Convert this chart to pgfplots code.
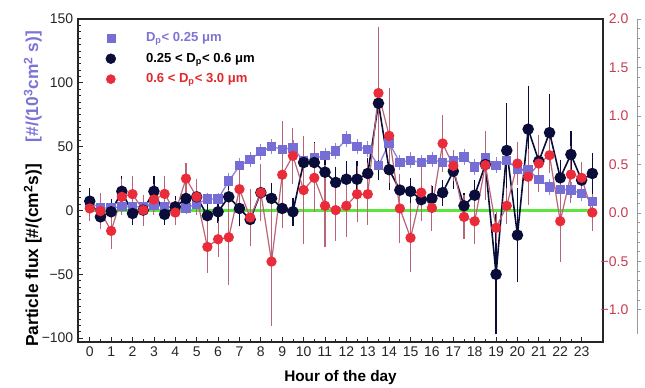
\documentclass[border=0pt]{standalone}
\usepackage{pgfplots}
\pgfplotsset{compat=1.18}
\usepackage{pgfplotstable}
\usepackage{fontspec}
\setmainfont{Liberation Sans}

\definecolor{lav}{RGB}{118,110,212}
\definecolor{lavline}{RGB}{140,132,220}
\definecolor{lavtext}{RGB}{125,115,215}
\definecolor{navy}{RGB}{10,12,58}
\definecolor{redm}{RGB}{234,44,58}
\definecolor{redline}{RGB}{185,100,120}
\definecolor{redtext}{RGB}{225,40,45}
\definecolor{gline}{RGB}{90,230,60}
\definecolor{raxis}{RGB}{200,60,80}

\pgfplotstableread{
x y e
0 6 3
0.5 2 3
1 2 3
1.5 3 3
2 3 3
2.5 3 3
3 4 3
3.5 3 3
4 2 3
4.5 2 3
5 5 3
5.5 9 3
6 9 3
6.5 23 4
7 35 4
7.5 40 4
8 46 4
8.5 50 4
9 48 4
9.5 49 4
10 39 4
10.5 41 4
11 43 4
11.5 46.5 4
12 56 4
12.5 50 4
13 48 4
13.5 35 5
14 53 5
14.5 37.6 4
15 39.4 4
15.5 37.6 4
16 40 4
16.5 37.6 4
17 39.4 4
17.5 41.8 4
18 34 4
18.5 41 4
19 35.5 4
19.5 39.4 4
20 32.4 4
20.5 31.6 4
21 24.5 4
21.5 18.5 4
22 16.7 4
22.5 16 4
23 13.3 4
23.5 7.3 4
}\sq

\pgfplotstableread{
x y e
0 7.3 8
0.5 -5 6
1 -1 8
1.5 15 10
2 -2.3 7
2.5 0.3 7
3 15 10
3.5 -3 6
4 2.9 6
4.5 9.4 8
5 10.7 8
5.5 -4 8
6 -1 7
6.5 10.7 10
7 1.6 12
7.5 -7 14
8 14 12
8.5 9.5 10
9 1.6 8
9.5 -1 9
10 37.6 14
10.5 37.6 14
11 30 10
11.5 22 10
12 24.5 12
12.5 24.5 12
13 29 10
13.5 84 58
14 32 14
14.5 16 8
15 15 8
15.5 8.5 8
16 9.5 8
16.5 14 8
17 30.8 12
17.5 3.7 8
18 12 10
18.5 36 22
19 -50 45
19.5 47 35
20 -19.3 35
20.5 63.7 32
21 38.6 12
21.5 61 28
22 25.6 12
22.5 43.9 16
23 23.8 10
23.5 29 14
}\nv

\pgfplotstableread{
x y e
0 1.6 8
0.5 -0.5 12
1 -16 12
1.5 10.7 12
2 12.8 12
2.5 0.3 10
3 8.6 10
3.5 13 12
4 -1.6 8
4.5 25 10
5 10.7 12
5.5 -28.5 18
6 -22.5 12
6.5 -21 35
7 16.7 16
7.5 -5.5 20
8 14 20
8.5 -40 48
9 28 40
9.5 42.8 20
10 16 40
10.5 25.6 25
11 3.7 30
11.5 0.3 22
12 3.7 22
12.5 12.8 20
13 12.8 22
13.5 92 50
14 58.5 35
14.5 1.6 25
15 -21.4 25
15.5 14 20
16 2 16
16.5 52.5 20
17 35 10
17.5 -5 15
18 -8.4 16
18.5 35.5 25
19 -13.6 10
19.5 3.7 12
20 36.8 15
20.5 26.4 20
21 36.8 20
21.5 43.3 12
22 -8.4 30
22.5 28.2 20
23 25.6 10
23.5 -1.6 12
}\rd

\begin{document}
\begin{tikzpicture}
\useasboundingbox (-58.5pt,-33.75pt) rectangle (425.25pt,256.5pt);
\begin{axis}[
  name=main, at={(0,0)}, anchor=south west,
  scale only axis, width=393.75pt, height=242.25pt,
  xmin=-0.55, xmax=24, ymin=-103, ymax=150,
  xtick={0,...,23}, minor x tick num=1,
  ytick={-100,-50,0,50,100,150},
  yticklabels={−100,−50,0,50,100,150},
  minor y tick num=9,
  tick pos=left,
  /pgf/number format/assume math mode=true,
  ticklabel style={font=\fontsize{10.5}{12}\selectfont, black!85},
  axis line style={black!85, line width=0.9pt},
  major tick length=4pt, minor tick length=2.5pt,
  every tick/.style={black!85, line width=0.6pt},
  xlabel={\bfseries\fontsize{11.5}{13}\selectfont Hour of the day},
  xlabel style={at={(axis description cs:0.5,-0.111)}, anchor=center},
  ylabel={\bfseries\fontsize{13}{15}\selectfont Particle flux [\#/(cm\textsuperscript{2}s)]\quad\ \textcolor{lavtext}{[\#/(10\textsuperscript{3}cm\textsuperscript{2} s)]}},
  ylabel style={at={(axis description cs:-0.086,0.474)}, anchor=center},
  legend style={draw=none, fill=none, at={(axis description cs:0.045,0.975)}, anchor=north west,
    font=\bfseries\fontsize{9.8}{11}\selectfont, row sep=3pt},
  legend cell align=left,
  legend image code/.code={\draw[#1] plot coordinates {(0.2cm,0cm)}; \path (1.05cm,0cm);},
]
\addplot[gline, line width=1.8pt, forget plot] coordinates {(0,0) (23.5,0)};
\addplot[lavline, line width=1pt, mark=square*, mark size=3pt, mark options={draw=lav, fill=lav}, forget plot,
  error bars/.cd, y dir=both, y explicit,
  error bar style={lavline, line width=0.6pt},
  error mark options={lavline, mark size=2pt, line width=0.6pt}]
  table[x=x, y=y, y error=e] {\sq};
\addplot[navy, line width=1.2pt, mark=*, mark size=3.7pt, mark options={draw=navy, fill=navy}, forget plot,
  error bars/.cd, y dir=both, y explicit,
  error bar style={navy, line width=0.9pt},
  error mark options={navy, mark size=2pt, line width=0.9pt}]
  table[x=x, y=y, y error=e] {\nv};
\addplot[redline, line width=0.9pt, mark=*, mark size=3.4pt, mark options={draw=redm, fill=redm}, forget plot,
  error bars/.cd, y dir=both, y explicit,
  error bar style={redline, line width=0.8pt},
  error mark options={redline, mark size=2pt, line width=0.8pt}]
  table[x=x, y=y, y error=e] {\rd};
\addlegendimage{only marks, mark=square*, mark size=3pt, lav, fill=lav}
\addlegendentry{\textcolor{lavtext}{D\textsubscript{p}< 0.25 μm}}
\addlegendimage{only marks, mark=*, mark size=3.7pt, navy, fill=navy}
\addlegendentry{\textcolor{black}{0.25 < D\textsubscript{p}< 0.6 μm}}
\addlegendimage{only marks, mark=*, mark size=3.4pt, redm, fill=redm}
\addlegendentry{\textcolor{redtext}{0.6 < D\textsubscript{p}< 3.0 μm}}
\end{axis}
\begin{axis}[
  at={(0,242.25pt)}, anchor=north west,
  scale only axis, width=419.25pt, height=236.25pt,
  xmin=0, xmax=1, ymin=-1.25, ymax=2,
  hide x axis, axis y line*=right,
  y axis line style={black!40, line width=0.6pt},
  ytick={-1,-0.5,0,0.5,1,1.5,2},
  yticklabels={−1.0,−0.5,0.0,0.5,1.0,1.5,2.0},
  minor y tick num=4, tick align=outside,
  major tick length=3pt, minor tick length=2pt,
  every tick/.style={black!40, line width=0.5pt},
  yticklabel style={font=\fontsize{10.5}{12}\selectfont, raxis, anchor=east, xshift=-6pt},
]
\addplot[draw=none] coordinates {(0,0)};
\end{axis}
\end{tikzpicture}
\end{document}
